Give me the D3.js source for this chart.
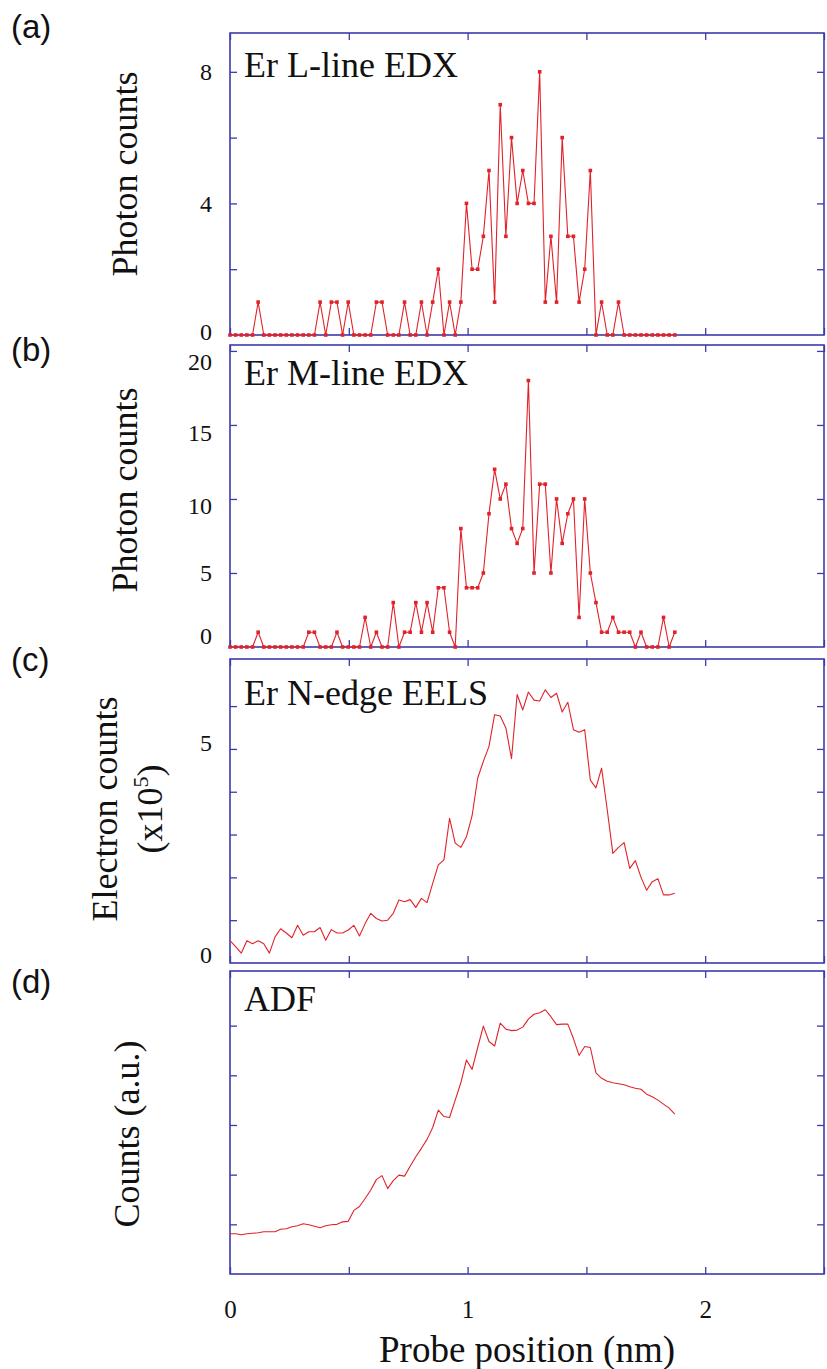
<!DOCTYPE html>
<html>
<head>
<meta charset="utf-8">
<script src="https://cdn.jsdelivr.net/npm/d3@7/dist/d3.min.js"></script>
<style>
  body { margin: 0; background: #fff; }
  svg text { font-family: "Liberation Serif", "Times New Roman", serif; fill: #111; }
</style>
</head>
<body>
<div id="chart"></div>
<script>
// probe scan: 80 equally spaced points, last one at ~1.87 nm
const scanEnd = 1.872

// (a) Er L-line EDX, photon counts
const lLine = [
  0, 0, 0, 0, 0, 1, 0, 0, 0, 0,
  0, 0, 0, 0, 0, 0, 1, 0, 1, 1,
  0, 1, 0, 0, 0, 0, 1, 1, 0, 0,
  0, 1, 0, 0, 1, 0, 1, 2, 0, 1,
  0, 1, 4, 2, 2, 3, 5, 1, 7, 3,
  6, 4, 5, 4, 4, 8, 1, 3, 1, 6,
  3, 3, 1, 2, 5, 0, 1, 0, 0, 1,
  0, 0, 0, 0, 0, 0, 0, 0, 0, 0
]

// (b) Er M-line EDX, photon counts
const mLine = [
  0, 0, 0, 0, 0, 1, 0, 0, 0, 0,
  0, 0, 0, 0, 1, 1, 0, 0, 0, 1,
  0, 0, 0, 0, 2, 0, 1, 0, 0, 3,
  0, 1, 1, 3, 1, 3, 1, 4, 4, 1,
  0, 8, 4, 4, 4, 5, 9, 12, 10, 11,
  8, 7, 8, 18, 5, 11, 11, 5, 10, 7,
  9, 10, 2, 10, 5, 3, 1, 1, 2, 1,
  1, 1, 0, 1, 0, 0, 0, 2, 0, 1
]

// (c) Er N-edge EELS, electron counts (x10^5)
const eels = [
  0.52, 0.38, 0.23, 0.52, 0.45, 0.52, 0.45, 0.23, 0.61, 0.80,
  0.70, 0.59, 0.88, 0.65, 0.73, 0.73, 0.83, 0.53, 0.78, 0.70,
  0.70, 0.77, 0.88, 0.63, 0.92, 1.16, 1.04, 0.98, 1.00, 1.16,
  1.47, 1.43, 1.48, 1.30, 1.51, 1.41, 1.86, 2.29, 2.41, 3.38,
  2.80, 2.70, 2.95, 3.44, 4.32, 4.71, 5.06, 5.80, 5.77, 5.49,
  4.77, 6.27, 5.91, 6.33, 6.14, 6.12, 6.38, 6.20, 6.30, 5.86,
  6.09, 5.45, 5.39, 5.45, 4.27, 4.09, 4.55, 3.58, 2.56, 2.70,
  2.81, 2.21, 2.39, 2.00, 1.70, 1.90, 1.97, 1.59, 1.59, 1.63
]

// (d) ADF, counts (a.u.)
const adf = [
  0.81, 0.81, 0.79, 0.81, 0.82, 0.83, 0.85, 0.85, 0.85, 0.90,
  0.91, 0.95, 0.97, 1.01, 0.99, 0.96, 0.93, 0.97, 0.99, 1.00,
  1.05, 1.06, 1.28, 1.36, 1.52, 1.69, 1.90, 1.98, 1.72, 1.88,
  1.99, 1.97, 2.17, 2.36, 2.53, 2.71, 2.95, 3.30, 3.17, 3.15,
  3.50, 3.85, 4.31, 4.12, 4.56, 4.99, 4.68, 4.59, 5.05, 4.93,
  4.90, 4.91, 4.97, 5.13, 5.23, 5.26, 5.32, 5.18, 5.02, 5.03,
  5.03, 4.74, 4.40, 4.58, 4.56, 4.05, 3.94, 3.88, 3.85, 3.83,
  3.81, 3.77, 3.74, 3.72, 3.62, 3.57, 3.50, 3.42, 3.34, 3.22
]

const xTicks = [0, 0.5, 1, 1.5, 2, 2.5]
const xLabels = [0, 1, 2]

var width = 827
var height = 1369
var left = 230
var right = 824

var frameColor = "#3b3bab"
var dataColor = "#e0232b"

// labelShift: small vertical nudges of tick labels as placed in the original figure
const panels = [
  { letter: "(a)", letterY: 38, name: "Er L-line EDX", nameY: 77, values: lLine, markers: true,
    top: 33, bottom: 335, yMax: 9.18, ticks: [2, 4, 6, 8], labels: [0, 4, 8],
    labelShift: { 0: -3 }, title: "Photon counts", titleX: 137, titleY: 174 },
  { letter: "(b)", letterY: 361, name: "Er M-line EDX", nameY: 385, values: mLine, markers: true,
    top: 345, bottom: 647, yMax: 20.4, ticks: [5, 10, 15, 20], labels: [0, 5, 10, 15, 20],
    labelShift: { 0: -11, 10: 7, 15: 8, 20: 11 }, title: "Photon counts", titleX: 137, titleY: 490 },
  { letter: "(c)", letterY: 671, name: "Er N-edge EELS", nameY: 705, values: eels, markers: false,
    top: 659, bottom: 963, yMax: 7.1, ticks: [1, 2, 3, 4, 5, 6], labels: [0, 5],
    labelShift: { 0: -8, 5: -6 }, title: "Electron counts", titleX: 117, titleY: 809, sub: true },
  { letter: "(d)", letterY: 993, name: "ADF", nameY: 1011, values: adf, markers: false,
    top: 971, bottom: 1274, yMax: 6.1, ticks: [1, 2, 3, 4, 5], labels: [],
    labelShift: {}, title: "Counts (a.u.)", titleX: 139, titleY: 1134 }
]

var svg = d3.select("#chart").append("svg")
  .attr("width", width)
  .attr("height", height)

var xScale = d3.scaleLinear().domain([0, 2.5]).range([left, right])

function drawPanel(p) {
  var g = svg.append("g").attr("class", "panel")

  var yScale = d3.scaleLinear().domain([0, p.yMax]).range([p.bottom, p.top])
  var iScale = d3.scaleLinear()
    .domain([0, p.values.length - 1])
    .range([xScale(0), xScale(scanEnd)])

  // inward ticks on all four sides
  var tickStyle = function(sel) {
    sel.select(".domain").remove()
    sel.selectAll(".tick line").attr("stroke", frameColor).attr("stroke-width", 1.3)
    sel.selectAll(".tick text").remove()
  }
  g.append("g").attr("transform", "translate(" + left + ",0)")
    .call(d3.axisLeft(yScale).tickValues(p.ticks).tickSize(-7)).call(tickStyle)
  g.append("g").attr("transform", "translate(" + right + ",0)")
    .call(d3.axisRight(yScale).tickValues(p.ticks).tickSize(-7)).call(tickStyle)
  g.append("g").attr("transform", "translate(0," + p.top + ")")
    .call(d3.axisTop(xScale).tickValues(xTicks).tickSize(-7)).call(tickStyle)
  g.append("g").attr("transform", "translate(0," + p.bottom + ")")
    .call(d3.axisBottom(xScale).tickValues(xTicks).tickSize(-7)).call(tickStyle)

  // frame
  g.append("rect")
    .attr("x", left).attr("y", p.top)
    .attr("width", right - left).attr("height", p.bottom - p.top)
    .attr("fill", "none").attr("stroke", frameColor).attr("stroke-width", 1.6)

  // y tick labels
  var yl = g.append("g").attr("transform", "translate(" + left + ",0)")
    .call(d3.axisLeft(yScale).tickValues(p.labels).tickSize(0).tickPadding(18).tickFormat(d3.format("d")))
  yl.select(".domain").remove()
  yl.selectAll(".tick text")
    .attr("font-family", "Liberation Serif, Times New Roman, serif")
    .attr("font-size", 24)
    .attr("fill", "#111")
    .attr("y", d => p.labelShift[d] || 0)

  // data line
  var line = d3.line()
    .x((d, i) => iScale(i))
    .y(d => yScale(d))

  g.append("path")
    .datum(p.values)
    .attr("d", line)
    .attr("fill", "none")
    .attr("stroke", dataColor)
    .attr("stroke-width", 1.1)
    .attr("stroke-linejoin", "round")

  if (p.markers) {
    g.selectAll(".pt")
      .data(p.values)
      .enter().append("rect")
      .attr("class", "pt")
      .attr("x", (d, i) => iScale(i) - 1.8)
      .attr("y", d => yScale(d) - 1.8)
      .attr("width", 3.6)
      .attr("height", 3.6)
      .attr("fill", dataColor)
  }

  // panel name inside the frame
  g.append("text")
    .attr("x", 244)
    .attr("y", p.nameY)
    .attr("font-size", 36)
    .text(p.name)

  // panel letter
  g.append("text")
    .attr("x", 11)
    .attr("y", p.letterY)
    .attr("font-size", 33)
    .style("font-family", "Liberation Sans, Arial, sans-serif")
    .text(p.letter)

  // y axis title
  g.append("text")
    .attr("transform", "translate(" + p.titleX + "," + p.titleY + ") rotate(-90)")
    .attr("text-anchor", "middle")
    .attr("font-size", 36)
    .text(p.title)

  if (p.sub) {
    var t = g.append("text")
      .attr("transform", "translate(162," + p.titleY + ") rotate(-90)")
      .attr("text-anchor", "middle")
      .attr("font-size", 36)
    t.append("tspan").text("(x10")
    t.append("tspan").attr("font-size", 22).attr("dy", -14).text("5")
    t.append("tspan").attr("dy", 14).text(")")
  }
}

panels.forEach(drawPanel)

// bottom x axis labels and title
var last = panels[panels.length - 1]
var xl = svg.append("g").attr("transform", "translate(0," + last.bottom + ")")
  .call(d3.axisBottom(xScale).tickValues(xLabels).tickSize(0).tickPadding(26).tickFormat(d3.format("d")))
xl.select(".domain").remove()
xl.selectAll("text")
  .attr("font-family", "Liberation Serif, Times New Roman, serif")
  .attr("font-size", 25)
  .attr("fill", "#111")

svg.append("text")
  .attr("x", (left + right) / 2)
  .attr("y", 1362)
  .attr("text-anchor", "middle")
  .attr("font-size", 37)
  .text("Probe position (nm)")
</script>
</body>
</html>
